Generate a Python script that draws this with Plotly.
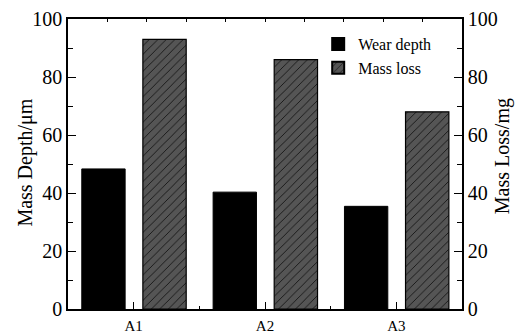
import plotly.graph_objects as go

categories = ["A1", "A2", "A3"]
wear_depth = [48.3, 40.3, 35.4]
mass_loss = [93.0, 86.0, 68.0]
y_ticks = [0, 20, 40, 60, 80, 100]

FONT = "Liberation Serif"

fig = go.Figure()
fig.add_trace(go.Bar(
    x=categories, y=wear_depth, name="Wear depth",
    width=0.33, offset=-0.395,
    marker=dict(color="black", line=dict(color="black", width=1)),
    yaxis="y",
))
fig.add_trace(go.Bar(
    x=categories, y=mass_loss, name="Mass loss",
    width=0.33, offset=0.07,
    marker=dict(color="#505050", line=dict(color="black", width=1.2),
                pattern=dict(shape="/", fgcolor="#111111", bgcolor="#555555",
                             size=6, solidity=0.14, fillmode="replace")),
    yaxis="y2",
))
# helper invisible traces so the decorative tick axes are drawn
fig.add_trace(go.Scatter(x=[0, 10], y=[0, 0], xaxis="x2", yaxis="y",
                         mode="markers", marker=dict(opacity=0), showlegend=False,
                         hoverinfo="skip"))
fig.add_trace(go.Scatter(x=[-0.5, 2.5], y=[0, 0], xaxis="x3", yaxis="y",
                         mode="markers", marker=dict(opacity=0), showlegend=False,
                         hoverinfo="skip"))

tf20 = dict(family=FONT, size=20, color="black")

fig.update_layout(
    width=523, height=336,
    margin=dict(l=68, r=61, t=19, b=27),
    paper_bgcolor="white", plot_bgcolor="white",
    font=dict(family=FONT, size=20, color="black"),
    barmode="overlay",
    showlegend=True,
    legend=dict(x=0.635, y=0.972, xanchor="left", yanchor="top",
                font=dict(size=16, family=FONT, color="black"), bgcolor="rgba(0,0,0,0)",
                tracegroupgap=0, itemsizing="constant"),
    xaxis=dict(
        type="category", range=[-0.5, 2.5], automargin=False,
        showline=True, linecolor="black", linewidth=1.5, mirror=True,
        ticks="inside", ticklen=7, tickwidth=1.2, tickcolor="black",
        tickfont=dict(family=FONT, size=15, color="black"), ticklabelstandoff=2,
        showgrid=False, zeroline=False,
    ),
    xaxis2=dict(
        overlaying="x", side="top", range=[0, 10], dtick=1, automargin=False,
        ticks="inside", ticklen=3, tickwidth=1, tickcolor="black",
        showticklabels=False, showgrid=False, zeroline=False, showline=False,
    ),
    xaxis3=dict(
        overlaying="x", side="bottom", range=[-0.5, 2.5], automargin=False,
        tickvals=[0.5, 1.5], ticks="inside", ticklen=3, tickwidth=1,
        tickcolor="black", showticklabels=False, showgrid=False,
        zeroline=False, showline=False,
    ),
    yaxis=dict(
        range=[0, 100], tickvals=y_ticks, tickfont=tf20, automargin=False,
        showline=True, linecolor="black", linewidth=1.5,
        ticks="inside", ticklen=8, tickwidth=1.2, tickcolor="black",
        minor=dict(dtick=10, ticks="inside", ticklen=5, tickwidth=1, tickcolor="black"),
        showgrid=False, zeroline=False,
    ),
    yaxis2=dict(
        range=[0, 100], tickvals=y_ticks, overlaying="y", side="right", tickfont=tf20,
        automargin=False,
        showline=True, linecolor="black", linewidth=1.5,
        ticks="inside", ticklen=8, tickwidth=1.2, tickcolor="black",
        minor=dict(dtick=10, ticks="inside", ticklen=5, tickwidth=1, tickcolor="black"),
        showgrid=False, zeroline=False,
    ),
    annotations=[
        dict(text="Mass Depth/μm", textangle=-90, xref="paper", yref="paper",
             x=-0.109, y=0.505, xanchor="center", yanchor="middle",
             showarrow=False, font=tf20),
        dict(text="Mass Loss/mg", textangle=-90, xref="paper", yref="paper",
             x=1.1015, y=0.527, xanchor="center", yanchor="middle",
             showarrow=False, font=tf20),
    ],
)

fig.write_html("out.html")
